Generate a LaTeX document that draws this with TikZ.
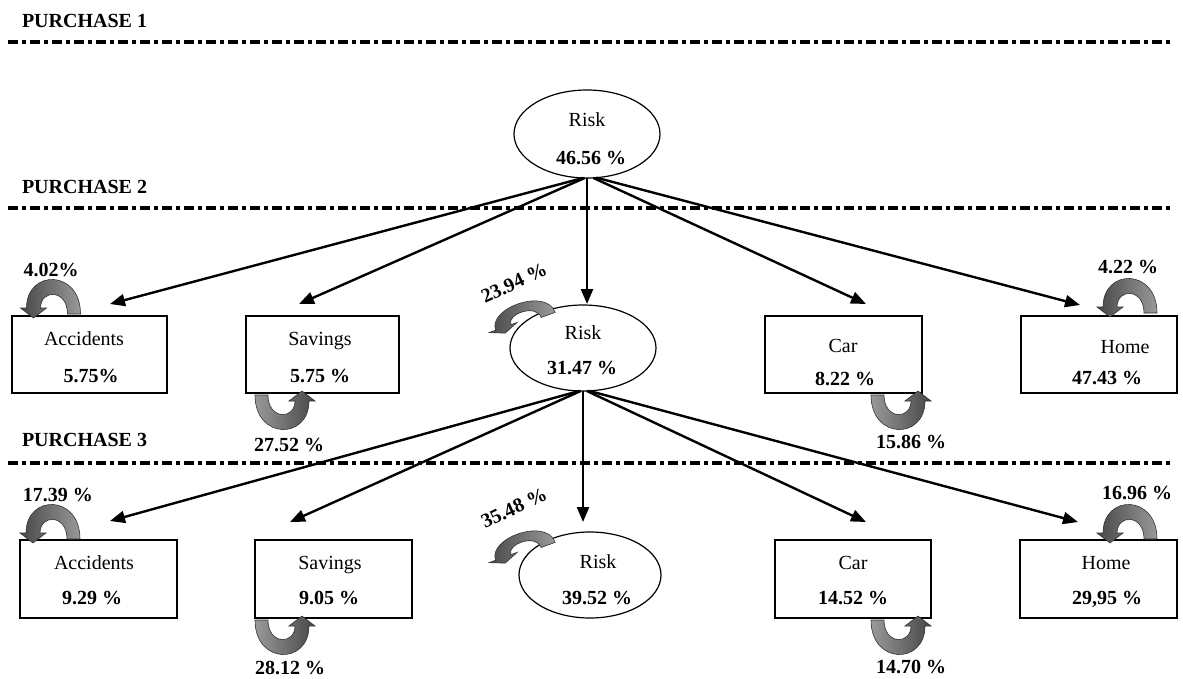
\documentclass[tikz,border=0pt]{standalone}
\usepackage{fontspec}
\setmainfont{Liberation Serif}
\usetikzlibrary{arrows.meta,shapes.geometric}

\begin{document}
\begin{tikzpicture}[x=1pt,y=-1pt,
  every node/.style={inner sep=0pt, outer sep=0pt},
  txt/.style={font=\fontsize{20}{24}\selectfont, anchor=base},
  pct/.style={font=\fontsize{20}{24}\selectfont\bfseries, anchor=base},
  stage/.style={font=\fontsize{20}{24}\selectfont\bfseries, anchor=base west},
  sep/.style={line width=3.5pt, dash pattern=on 10pt off 4pt on 3.5pt off 4.5pt},
  prodbox/.style={draw, line width=1.2pt, rectangle},
  riskell/.style={draw, line width=1.2pt, ellipse},
  flow/.style={line width=2.4pt, -{Triangle[length=15pt,width=12pt]}},
  loopbody/.style={left color=black!72, right color=black!40, draw=black!80, line width=0.6pt},
  curl/.pic={
    \path[loopbody] (27,0) .. controls (27,-45) and (-27,-45) .. (-27,-6)
      -- (-33,-6) -- (-20,4) -- (-7,-6) -- (-13,-6)
      .. controls (-13,-25) and (14,-25) .. (14,0) -- cycle;
  },
  curlflip/.style={rotate=180,
    loopbody/.style={left color=black!40, right color=black!72, draw=black!80, line width=0.6pt}},
  curltilt/.style={rotate=20, xscale=1.15, yscale=0.6}
]
\useasboundingbox (0,0) rectangle (1183,679);

% stage headings and separators
\node[stage] (p1) at (22,28) {PURCHASE 1};
\node[stage] (p2) at (22,193.5) {PURCHASE 2};
\node[stage] (p3) at (22,446.5) {PURCHASE 3};
\draw[sep] (8,42) -- (1172,42);
\draw[sep] (8,208) -- (1172,208);
\draw[sep] (8,463) -- (1172,463);

% purchase 1
\node[riskell, minimum width=146pt, minimum height=88pt] (r1) at (587,134) {};
\node[txt] (r1a) at (587,126.5) {Risk};
\node[pct] (r1b) at (591,164.5) {46.56 \%};

% purchase 2
\node[prodbox, minimum width=155pt, minimum height=77pt] (acc2) at (89.5,354.5) {};
\node[txt] (acc2a) at (84,345) {Accidents};
\node[pct] (acc2b) at (91,382) {5.75\%};
\node[prodbox, minimum width=153pt, minimum height=77pt] (sav2) at (322.5,354.5) {};
\node[txt] (sav2a) at (320,345) {Savings};
\node[pct] (sav2b) at (320,382) {5.75 \%};
\node[riskell, minimum width=146pt, minimum height=86pt] (r2) at (583,348) {};
\node[txt] (r2a) at (583,339.5) {Risk};
\node[pct] (r2b) at (582,374.5) {31.47 \%};
\node[prodbox, minimum width=157pt, minimum height=77pt] (car2) at (843.5,354.5) {};
\node[txt] (car2a) at (843,352) {Car};
\node[pct] (car2b) at (845,385) {8.22 \%};
\node[prodbox, minimum width=156pt, minimum height=77pt] (home2) at (1099,354.5) {};
\node[txt] (home2a) at (1125,353.5) {Home};
\node[pct] (home2b) at (1107,384) {47.43 \%};

% purchase 3
\node[prodbox, minimum width=157pt, minimum height=78pt] (acc3) at (98.5,579) {};
\node[txt] (acc3a) at (94,569) {Accidents};
\node[pct] (acc3b) at (92,604) {9.29 \%};
\node[prodbox, minimum width=157pt, minimum height=78pt] (sav3) at (333.5,579) {};
\node[txt] (sav3a) at (330,569) {Savings};
\node[pct] (sav3b) at (329,604) {9.05 \%};
\node[riskell, minimum width=142pt, minimum height=86pt] (r3) at (590,575) {};
\node[txt] (r3a) at (598,568.5) {Risk};
\node[pct] (r3b) at (597,604.5) {39.52 \%};
\node[prodbox, minimum width=156pt, minimum height=78pt] (car3) at (853,579) {};
\node[txt] (car3a) at (853,569) {Car};
\node[pct] (car3b) at (853,604) {14.52 \%};
\node[prodbox, minimum width=157pt, minimum height=78pt] (home3) at (1098.5,579) {};
\node[txt] (home3a) at (1106,569.5) {Home};
\node[pct] (home3b) at (1107,604) {29,95 \%};

% arrow ends
\coordinate (t2acc) at (110,304);
\coordinate (t2sav) at (299,304);
\coordinate (t2risk) at (587,304);
\coordinate (t2car) at (866,304);
\coordinate (t2home) at (1080,305);
\coordinate (t3acc) at (110,521);
\coordinate (t3sav) at (290,522);
\coordinate (t3risk) at (583,522);
\coordinate (t3car) at (866,522);
\coordinate (t3home) at (1078,522);

% transitions purchase 1 -> 2
\draw[flow] (r1.-95) -- (t2acc);
\draw[flow] (r1.-93) -- (t2sav);
\draw[flow] (r1.south) -- (t2risk);
\draw[flow] (r1.-82) -- (t2car);
\draw[flow] (r1.-78) -- (t2home);

% transitions purchase 2 -> 3
\draw[flow] (r2.-95) -- (t3acc);
\draw[flow] (r2.-93) -- (t3sav);
\draw[flow] (r2.south) -- (t3risk);
\draw[flow] (r2.-85) -- (t3car);
\draw[flow] (r2.-82) -- (t3home);

% repeat-purchase curls
\pic at (53.5,314) {curl};
\pic[curlflip] at (282,395) {curl};
\pic[curltilt] at (526,323) {curl};
\pic[curlflip] at (898,395) {curl};
\pic at (1130,313) {curl};
\pic at (53,539) {curl};
\pic[curlflip] at (282,620) {curl};
\pic[curltilt] at (526,553) {curl};
\pic[curlflip] at (898,620) {curl};
\pic at (1130,539) {curl};

% repeat-purchase shares
\node[pct] (l1) at (51,276.5) {4.02\%};
\node[pct] (l2) at (289,451.5) {27.52 \%};
\node[pct, anchor=center, rotate=25] (l3) at (514,283) {23.94 \%};
\node[pct] (l4) at (911,448.5) {15.86 \%};
\node[pct] (l5) at (1128,273.5) {4.22 \%};
\node[pct] (l6) at (58,501.5) {17.39 \%};
\node[pct] (l7) at (290,674.5) {28.12 \%};
\node[pct, anchor=center, rotate=25] (l8) at (514,508) {35.48 \%};
\node[pct] (l9) at (911,673.5) {14.70 \%};
\node[pct] (l10) at (1137,499.5) {16.96 \%};
\end{tikzpicture}
\end{document}
